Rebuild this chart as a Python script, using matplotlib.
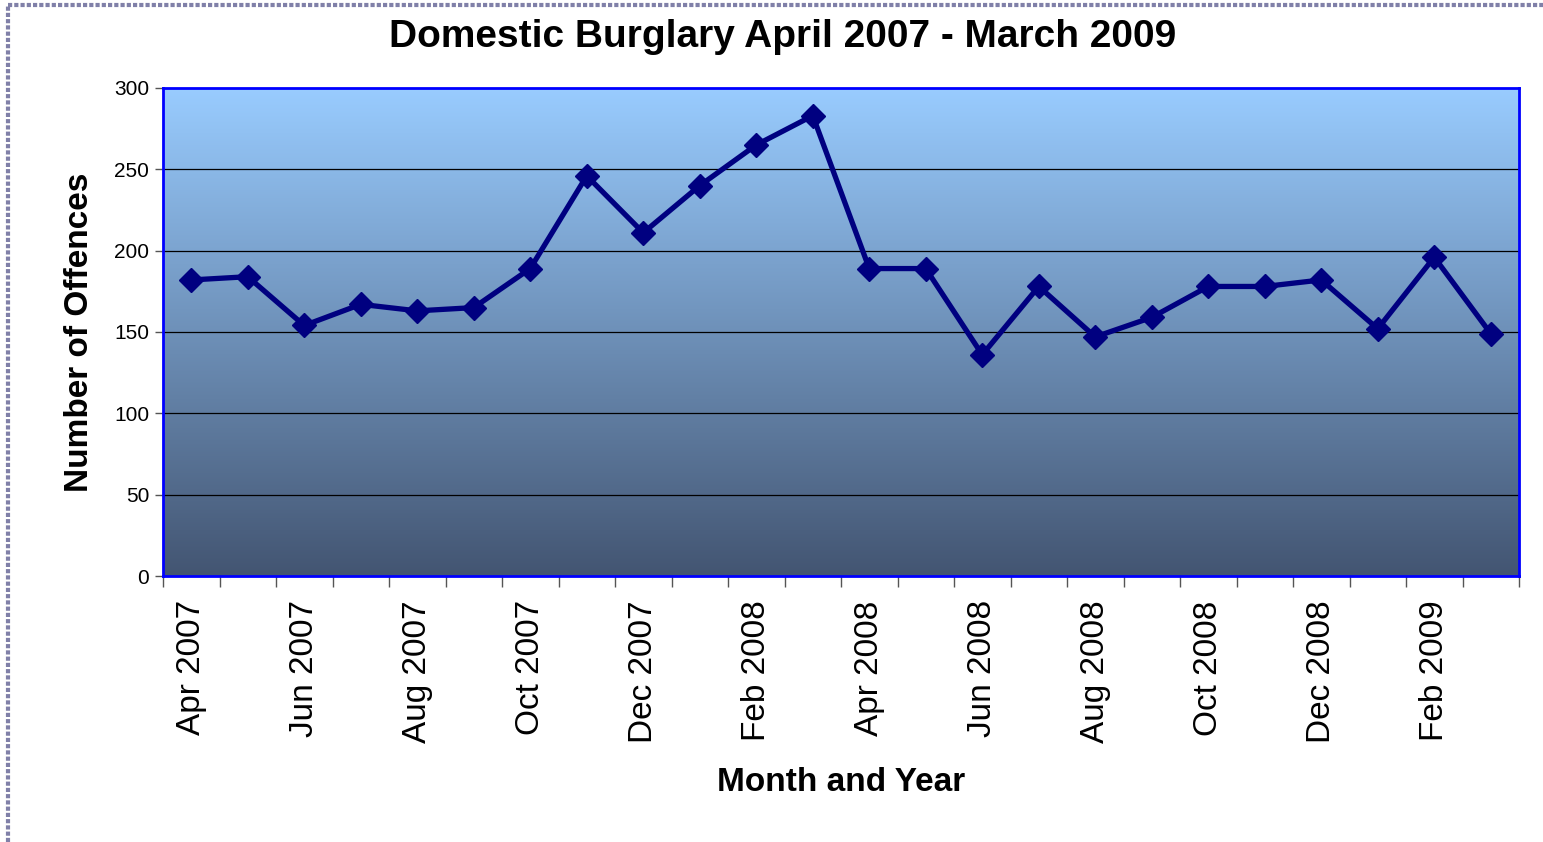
import numpy as np
import matplotlib.pyplot as plt

months = ['Apr 2007', 'May 2007', 'Jun 2007', 'Jul 2007', 'Aug 2007', 'Sep 2007',
          'Oct 2007', 'Nov 2007', 'Dec 2007', 'Jan 2008', 'Feb 2008', 'Mar 2008',
          'Apr 2008', 'May 2008', 'Jun 2008', 'Jul 2008', 'Aug 2008', 'Sep 2008',
          'Oct 2008', 'Nov 2008', 'Dec 2008', 'Jan 2009', 'Feb 2009', 'Mar 2009']
offences = [182, 184, 154, 167, 163, 165, 189, 246, 211, 240, 265, 283,
            189, 189, 136, 178, 147, 159, 178, 178, 182, 152, 196, 149]

plt.rcParams['font.family'] = ['Liberation Sans', 'DejaVu Sans']

fig = plt.figure(figsize=(15.43, 8.42), dpi=100)
ax = fig.add_axes([163 / 1543, 1 - 576 / 842, (1519 - 163) / 1543, (576 - 88) / 842])

n = len(months)
x = np.arange(n)
ax.set_xlim(-0.5, n - 0.5)
ax.set_ylim(0, 300)

# gradient background: light blue at top to dark slate at bottom
top = np.array([0x99, 0xCC, 0xFF]) / 255
bot = np.array([0x43, 0x55, 0x72]) / 255
t = np.linspace(0, 1, 256)[:, None]
grad = (top * (1 - t) + bot * t)[:, None, :]
ax.imshow(grad, extent=[-0.5, n - 0.5, 0, 300], aspect='auto', zorder=0,
          interpolation='bicubic')

for yv in range(50, 300, 50):
    ax.axhline(yv, color='black', lw=0.9, zorder=1)

ax.plot(x, offences, color='#000080', lw=3.8, marker='D', markersize=12.5,
        zorder=3)

ax.set_xticks(np.arange(-0.5, n, 1))
ax.set_xticklabels([])
ax.set_xticks(x[::2], minor=True)
ax.set_xticklabels(months[::2], minor=True, rotation=90, fontsize=24)
ax.tick_params(axis='x', which='major', direction='out', length=8, width=1,
               color='#555555')
ax.tick_params(axis='x', which='minor', length=0, pad=17.5)
ax.set_yticks(range(0, 301, 50))
ax.tick_params(axis='y', direction='out', length=6, width=1, color='#555555',
               labelsize=15, pad=4)

for s in ax.spines.values():
    s.set_color('#0000FF')
    s.set_linewidth(2)

fig.text(783 / 1543, 1 - 37 / 842, 'Domestic Burglary April 2007 - March 2009',
         fontsize=28, fontweight='bold', ha='center', va='center')
ax.set_ylabel('Number of Offences', fontsize=24, fontweight='bold', labelpad=14)
ax.set_xlabel('Month and Year', fontsize=24, fontweight='bold', labelpad=17)

# dotted frame at top and left of the chart area
fig.add_artist(plt.Line2D([8 / 1543, 8 / 1543], [0, 1 - 5 / 842],
                          transform=fig.transFigure, color='#8080A8', lw=3,
                          ls=(0, (1, 0.5))))
fig.add_artist(plt.Line2D([8 / 1543, 1], [1 - 5 / 842, 1 - 5 / 842],
                          transform=fig.transFigure, color='#8080A8', lw=3,
                          ls=(0, (1, 0.5))))

fig.savefig('out.png', dpi=100)
